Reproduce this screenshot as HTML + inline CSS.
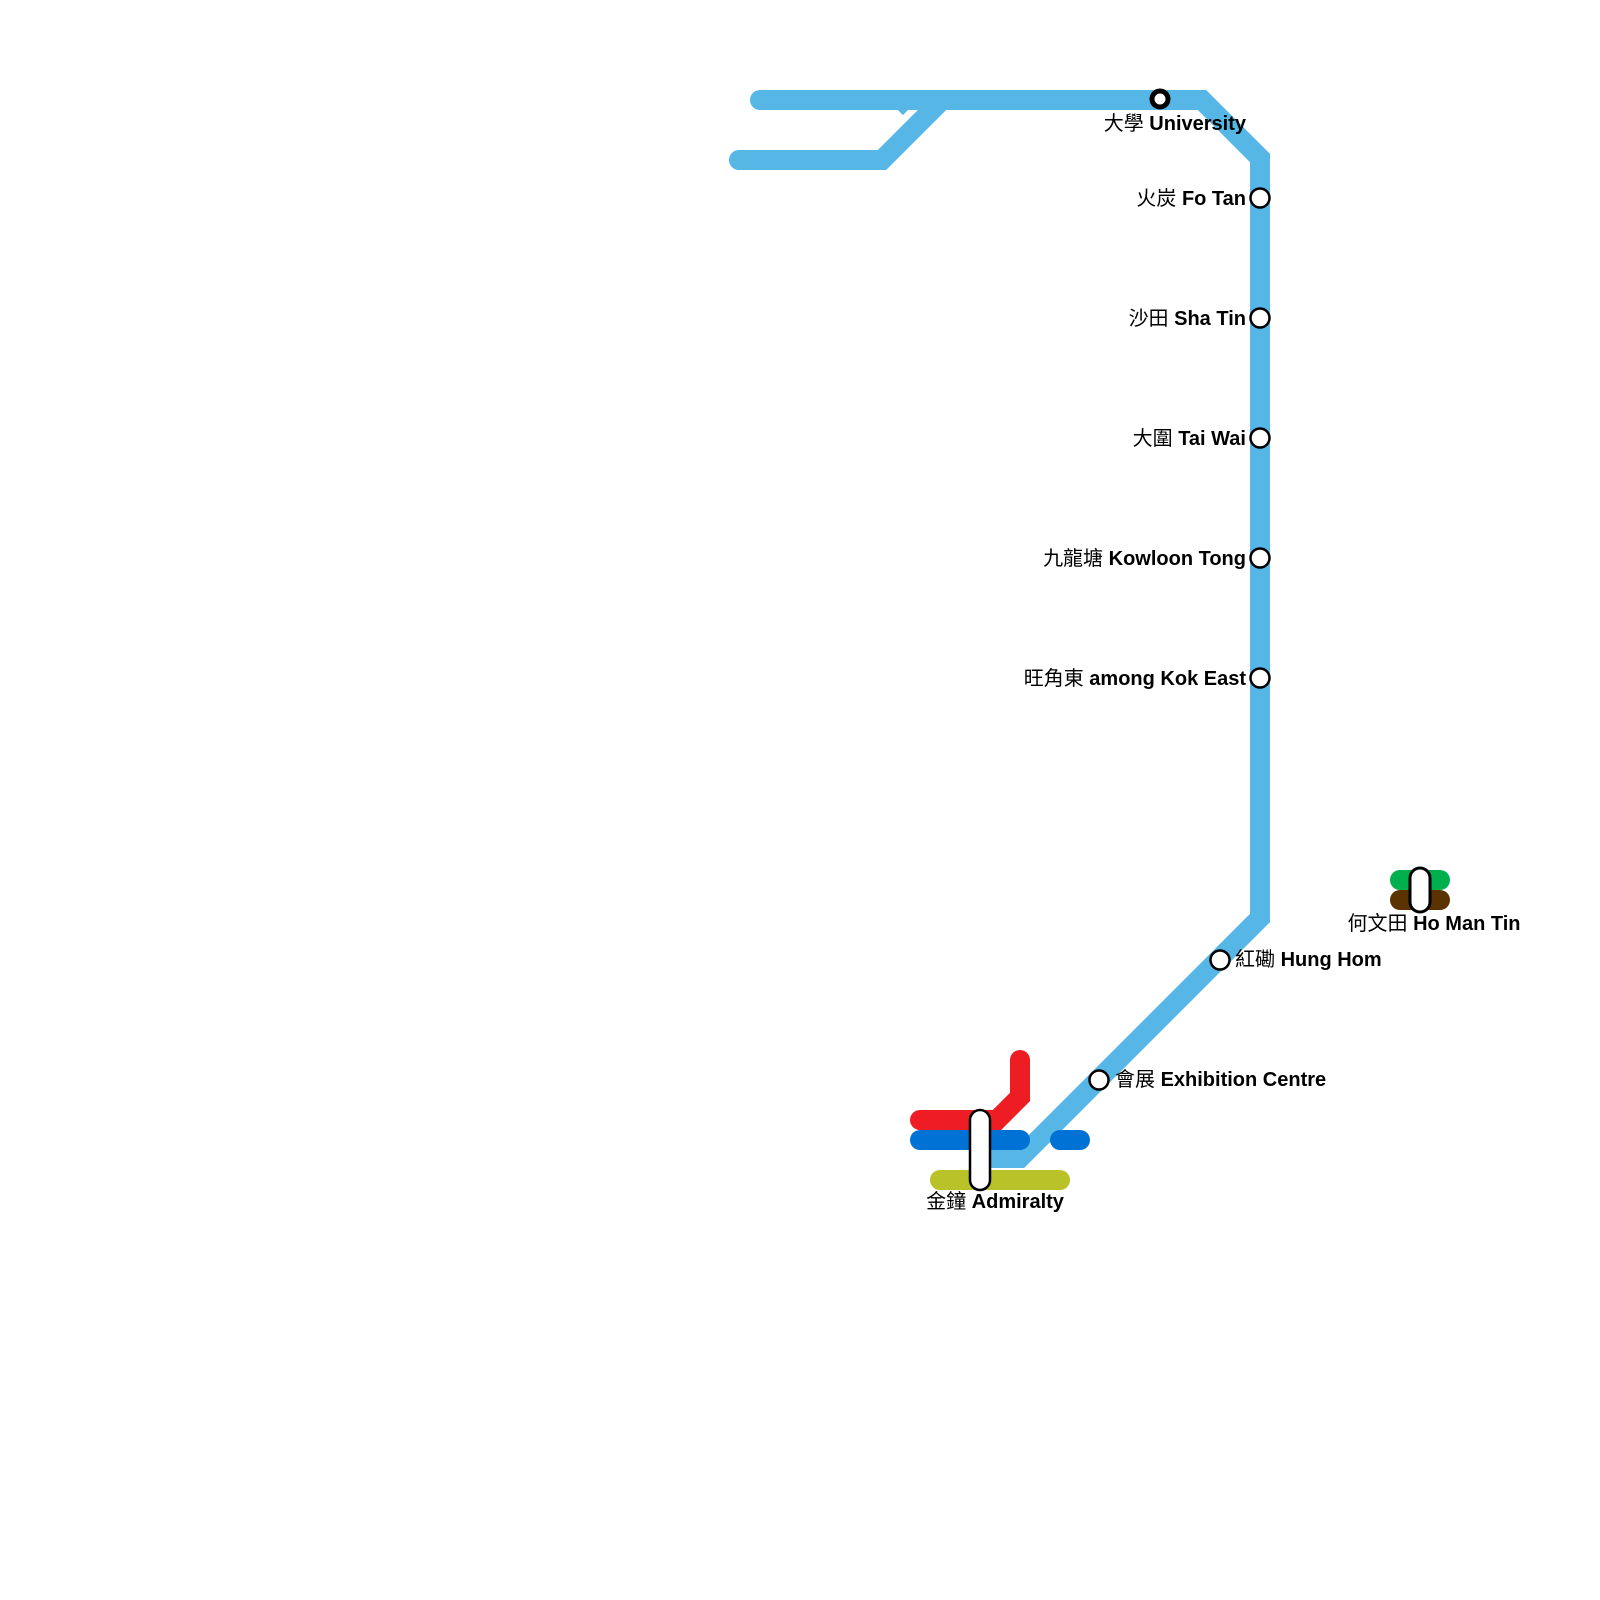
<!DOCTYPE html>
<html><head><meta charset="utf-8"><style>html,body{margin:0;padding:0;background:#fff}svg{display:block}
text{font-family:"Liberation Sans","Noto Sans CJK TC",sans-serif;font-size:20px;fill:#000}
.b{font-weight:bold}</style></head><body>
<svg width="1600" height="1600" viewBox="0 0 1600 1600" xmlns="http://www.w3.org/2000/svg">
<g fill="none" stroke-width="20" stroke-linecap="round" stroke-linejoin="round">
<path d="M760 100 H1202 L1260 158 V918 L1020 1158 H985" stroke="#56b7e7" stroke-linejoin="miter"/>
<path d="M739 160 H882 L942 100" stroke="#56b7e7" stroke-linecap="round" stroke-linejoin="miter"/>
<path d="M902 100 L910 108" stroke="#56b7e7" stroke-linecap="butt"/>
<path d="M920 1120 H997 L1020 1097 V1060" stroke="#ee1d23" stroke-linejoin="miter"/>
<path d="M920 1140 H1020 M1060 1140 H1080" stroke="#0071d5"/>
<path d="M940 1180 H1060" stroke="#b9c329"/>
<path d="M1400 880 H1440" stroke="#00b04f"/>
<path d="M1400 900 H1440" stroke="#5a3300"/>
</g>
<g fill="#fff" stroke="#000" stroke-width="2.5">
<circle cx="1260" cy="198" r="9.5"/>
<circle cx="1260" cy="318" r="9.5"/>
<circle cx="1260" cy="438" r="9.5"/>
<circle cx="1260" cy="558" r="9.5"/>
<circle cx="1260" cy="678" r="9.5"/>
<circle cx="1220" cy="960" r="9.5"/>
<circle cx="1099" cy="1080" r="9.5"/>
<rect x="970" y="1110" width="20" height="80" rx="10"/>
<rect x="1410" y="868" width="20" height="44" rx="10" stroke-width="3"/>
</g>
<circle cx="1160" cy="99" r="8" fill="#fff" stroke="#000" stroke-width="5"/>
<g text-anchor="end">
<text x="1246" y="130">大學 <tspan class="b">University</tspan></text>
<text x="1246" y="205">火炭 <tspan class="b">Fo Tan</tspan></text>
<text x="1246" y="325">沙田 <tspan class="b">Sha Tin</tspan></text>
<text x="1246" y="445">大圍 <tspan class="b">Tai Wai</tspan></text>
<text x="1246" y="565">九龍塘 <tspan class="b">Kowloon Tong</tspan></text>
<text x="1246" y="685">旺角東 <tspan class="b">among Kok East</tspan></text>
</g>
<text x="1235" y="966">紅磡 <tspan class="b">Hung Hom</tspan></text>
<text x="1115" y="1086">會展 <tspan class="b">Exhibition Centre</tspan></text>
<text x="995" y="1208" text-anchor="middle">金鐘 <tspan class="b">Admiralty</tspan></text>
<text x="1434" y="930" text-anchor="middle">何文田 <tspan class="b">Ho Man Tin</tspan></text>
</svg>
</body></html>
